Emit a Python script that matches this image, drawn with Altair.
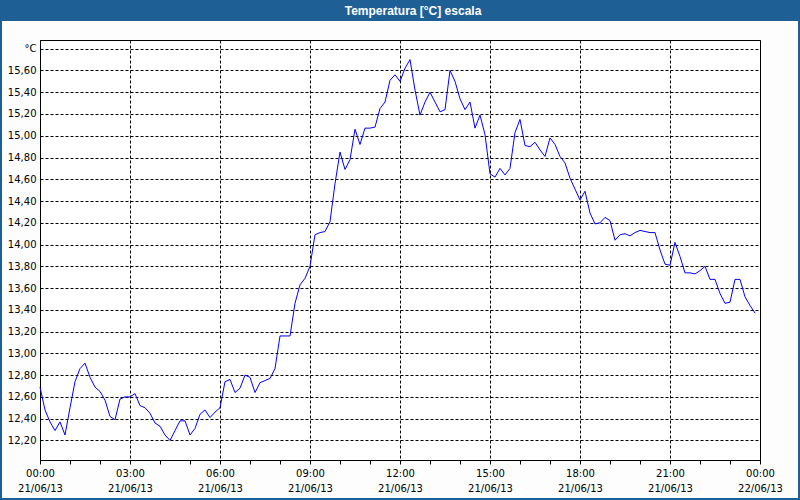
import altair as alt
import pandas as pd

# Temperature readings every 10 minutes, 21/06/13 00:00 -> 23:50
temps = [
    12.69, 12.48, 12.37, 12.29, 12.37, 12.25, 12.50, 12.74, 12.86, 12.91,
    12.78, 12.69, 12.65, 12.57, 12.42, 12.39, 12.58, 12.60, 12.60, 12.63,
    12.52, 12.50, 12.45, 12.36, 12.33, 12.25, 12.20, 12.29, 12.38, 12.38,
    12.25, 12.31, 12.44, 12.48, 12.41, 12.46, 12.50, 12.74, 12.76, 12.64,
    12.68, 12.80, 12.78, 12.64, 12.73, 12.75, 12.77, 12.86, 13.16, 13.16,
    13.16, 13.46, 13.63, 13.69, 13.80, 14.09, 14.11, 14.12, 14.21, 14.56,
    14.85, 14.69, 14.78, 15.06, 14.92, 15.07, 15.07, 15.08, 15.25, 15.31,
    15.51, 15.56, 15.50, 15.62, 15.70, 15.42, 15.19, 15.31, 15.40, 15.31,
    15.22, 15.24, 15.60, 15.50, 15.34, 15.24, 15.31, 15.07, 15.19, 15.01,
    14.65, 14.62, 14.70, 14.64, 14.70, 15.03, 15.15, 14.91, 14.90, 14.94,
    14.87, 14.81, 14.98, 14.92, 14.81, 14.75, 14.61, 14.51, 14.41, 14.49,
    14.29, 14.19, 14.20, 14.25, 14.22, 14.04, 14.09, 14.10, 14.08, 14.11,
    14.13, 14.12, 14.11, 14.11, 13.95, 13.82, 13.81, 14.02, 13.89, 13.74,
    13.74, 13.73, 13.76, 13.80, 13.68, 13.68, 13.55, 13.46, 13.47, 13.68,
    13.68, 13.52, 13.44, 13.37,
]
start = pd.Timestamp("2013-06-21 00:00")
times = [(start + pd.Timedelta(minutes=10 * i)).strftime("%Y-%m-%dT%H:%M:%S")
         for i in range(len(temps))]

y_ticks = [12.2, 12.4, 12.6, 12.8, 13.0, 13.2, 13.4, 13.6, 13.8, 14.0,
           14.2, 14.4, 14.6, 14.8, 15.0, 15.2, 15.4, 15.6, 15.8]
y_domain = [12.02, 15.88]
title_text = "Temperatura [°C] escala"
unit_label = "°C"

x_ticks = [alt.DateTime(year=2013, month=6, date=21, hours=h) for h in range(24)]
x_ticks.append(alt.DateTime(year=2013, month=6, date=22, hours=0))
x_domain = [alt.DateTime(year=2013, month=6, date=21, hours=0),
            alt.DateTime(year=2013, month=6, date=22, hours=0)]

df = pd.DataFrame({"t": times, "v": temps})
one = pd.DataFrame({"a": [0]})

BLUE_BAR = "#1E5F96"

line = alt.Chart(df).mark_line(color="#0000FF", strokeWidth=1).encode(
    x=alt.X("t:T", scale=alt.Scale(domain=x_domain, nice=False),
            axis=alt.Axis(
                values=x_ticks, title=None,
                labelExpr="hours(datum.value) % 3 ? '' : [timeFormat(datum.value, '%H:%M'), timeFormat(datum.value, '%d/%m/%y')]",
                labelOverlap=False, labelFlush=False, labelBound=False,
                labelLineHeight=15, labelPadding=4,
                tickSize=4, tickColor="black", domainColor="black",
                grid=True, gridColor="black", gridDash=[3, 2], gridWidth=1,
                gridOpacity={"condition": {"test": "hours(datum.value) % 3 === 0", "value": 1}, "value": 0},
            )),
    y=alt.Y("v:Q", scale=alt.Scale(domain=y_domain, nice=False, zero=False),
            axis=alt.Axis(
                values=y_ticks, title=None, ticks=False, labelPadding=4,
                labelExpr=f"datum.value > 15.7 ? '{unit_label}' : replace(format(datum.value, '.2f'), '.', ',')",
                domainColor="black", grid=True, gridColor="black",
                gridDash=[3, 2], gridWidth=1,
            )),
)

bar = alt.Chart(one).mark_rect(fill=BLUE_BAR).encode(
    x=alt.value(-40), x2=alt.value(760), y=alt.value(-40), y2=alt.value(-19))

title = alt.Chart(one).mark_text(
    text=title_text, font="Liberation Sans", fontWeight="bold", fontSize=12,
    color="white", align="center", baseline="middle").encode(
    x=alt.value(373), y=alt.value(-29.5))

frame = alt.Chart(one).mark_rect(fillOpacity=0, stroke=BLUE_BAR, strokeWidth=2).encode(
    x=alt.value(-39), x2=alt.value(759), y=alt.value(-30), y2=alt.value(459))

chart = alt.layer(line, frame, bar, title).properties(
    width=720, height=420,
    autosize=alt.AutoSizeParams(type="none"),
    padding={"left": 40, "top": 40, "right": 40, "bottom": 40},
    background="#FCFDFC",
).configure_view(
    stroke="black", strokeWidth=1, fill="white"
).configure_axis(
    labelFont="DejaVu Sans", labelFontSize=10, labelColor="black",
)

chart.save("out.html", embed_options={"renderer": "svg", "actions": False})
